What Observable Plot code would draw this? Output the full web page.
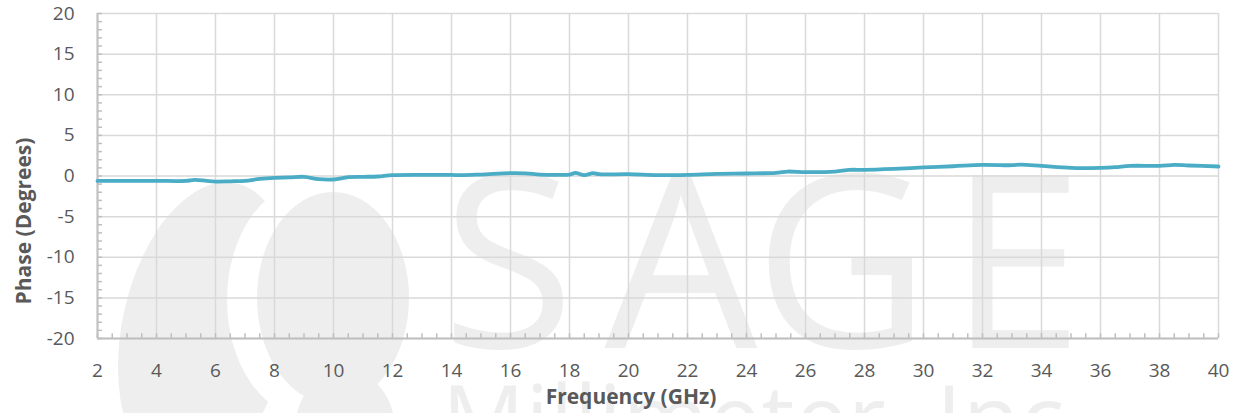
<!DOCTYPE html>
<html><head><meta charset="utf-8">
<script src="https://cdn.jsdelivr.net/npm/d3@7"></script>
<script src="https://cdn.jsdelivr.net/npm/@observablehq/plot@0.6"></script>
<style>body{margin:0;background:#fff}</style>
</head><body><div id="chart"></div>
<script>
const freq  = [2, 3, 4, 5, 5.3, 5.7, 6, 6.5, 7, 7.5, 8, 8.5, 9, 9.5, 10, 10.5, 11, 11.5, 12, 13, 14, 14.3, 15, 16, 16.5, 17, 17.6, 18, 18.2, 18.5, 18.8, 19, 20, 21, 22, 23, 24, 25, 25.4, 26, 27, 27.5, 28, 29, 30, 31, 32, 33, 33.3, 34, 35, 36, 36.5, 37, 38, 38.5, 39, 40];
const phase = [-0.6, -0.6, -0.6, -0.6, -0.47, -0.6, -0.68, -0.65, -0.6, -0.35, -0.22, -0.18, -0.1, -0.39, -0.43, -0.14, -0.1, -0.06, 0.1, 0.14, 0.14, 0.1, 0.18, 0.35, 0.33, 0.18, 0.14, 0.18, 0.39, 0.1, 0.35, 0.22, 0.22, 0.1, 0.14, 0.27, 0.31, 0.39, 0.55, 0.47, 0.55, 0.76, 0.76, 0.88, 1.05, 1.2, 1.37, 1.33, 1.41, 1.25, 1.0, 1.0, 1.08, 1.25, 1.25, 1.37, 1.29, 1.17];
const xTicks = d3.range(2, 41, 2);
const yTicks = d3.range(-20, 21, 5);
const xMinor = d3.range(2, 40.01, 0.5);
const yMinor = d3.range(-20, 20.01, 1);
const xTitle = "Frequency (GHz)";
const yTitle = "Phase (Degrees)";
const watermarkLetters = ["S", "A", "G", "E"];
const watermarkLine2 = "Millimeter, Inc.";

const data = freq.map((f, i) => ({f, p: phase[i]}));
const axisColor = "#bfbfbf";
const gridColor = "#d9d9d9";
const textColor = "#595959";
const fmt = d => String(d);

const plot = Plot.plot({
  width: 1238, height: 413,
  marginLeft: 97, marginRight: 20, marginTop: 13, marginBottom: 75,
  style: {fontFamily: "'Open Sans', sans-serif", fontSize: "19px", color: textColor, background: "white"},
  x: {domain: [2, 40], label: null},
  y: {domain: [-20, 20], label: null},
  marks: [
    Plot.gridX(xTicks, {stroke: gridColor, strokeOpacity: 1, strokeWidth: 1.5}),
    Plot.gridY(yTicks, {stroke: gridColor, strokeOpacity: 1, strokeWidth: 1.5}),
    Plot.ruleX(xMinor, {y1: -20, y2: -19.4, stroke: axisColor, strokeWidth: 1.5}),
    Plot.ruleY(yMinor, {x1: 2, x2: 2.17, stroke: axisColor, strokeWidth: 1.5}),
    Plot.axisX(xTicks, {tickSize: 0, tickPadding: 25, fill: textColor, fontSize: 19, tickFormat: fmt}),
    Plot.axisY(yTicks, {tickSize: 0, tickPadding: 23, fill: textColor, fontSize: 19, tickFormat: fmt}),
    Plot.ruleY([-20], {stroke: axisColor, strokeWidth: 2}),
    Plot.ruleX([2], {stroke: axisColor, strokeWidth: 2}),
    Plot.line(data, {x: "f", y: "p", stroke: "#4bacc6", strokeWidth: 3.8, curve: "catmull-rom"})
  ]
});

const svg = d3.select(plot);
// watermark (background logo)
const wm = svg.insert("g", ":first-child").attr("fill", "#eeeeee")
  .attr("font-family", "'Open Sans', sans-serif");
wm.append("ellipse").attr("cx", 205).attr("cy", 330).attr("rx", 83).attr("ry", 150)
  .attr("transform", "rotate(12,205,330)");
wm.append("ellipse").attr("cx", 310).attr("cy", 300).attr("rx", 83).attr("ry", 118).attr("fill", "white");
wm.append("ellipse").attr("cx", 333).attr("cy", 298).attr("rx", 76).attr("ry", 106);
wm.append("ellipse").attr("cx", 345).attr("cy", 430).attr("rx", 50).attr("ry", 60);
const letterCenters = [508, 681, 842, 1016];
watermarkLetters.forEach((ch, i) => {
  wm.append("text").text(ch).attr("x", letterCenters[i]).attr("y", 348)
    .attr("text-anchor", "middle").attr("font-size", 242);
});
wm.append("text").text(watermarkLine2).attr("x", 442).attr("y", 451)
  .attr("text-anchor", "start").attr("font-size", 92).attr("letter-spacing", 1);
svg.insert("rect", ":first-child").attr("width", 1238).attr("height", 413).attr("fill", "white");

// axis titles
svg.append("text").text(xTitle).attr("x", 631).attr("y", 404)
  .attr("text-anchor", "middle").attr("font-weight", "bold").attr("font-size", 21)
  .attr("fill", textColor).attr("font-family", "'Open Sans', sans-serif");
svg.append("text").text(yTitle).attr("transform", "translate(31,221) rotate(-90)")
  .attr("text-anchor", "middle").attr("font-weight", "bold").attr("font-size", 21)
  .attr("fill", textColor).attr("font-family", "'Open Sans', sans-serif");

document.getElementById("chart").appendChild(plot);
</script>
</body></html>
